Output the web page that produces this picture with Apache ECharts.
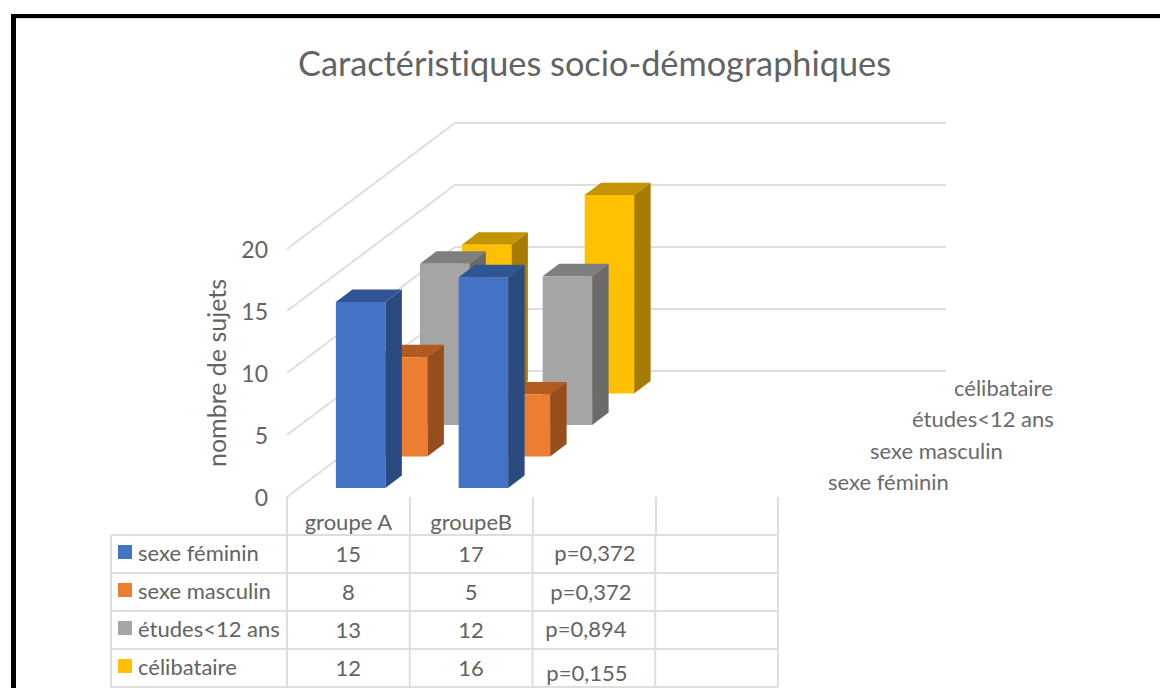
<!DOCTYPE html>
<html><head><meta charset="utf-8">
<style>html,body{margin:0;padding:0;background:#fff}#c{width:1160px;height:688px}
svg text{font-variant-ligatures:none}</style>
<script src="https://cdn.jsdelivr.net/npm/echarts@6/dist/echarts.min.js"></script>
</head><body><div id="c"></div>
<script>
const titleText = 'Caractéristiques socio-démographiques';
const yAxisName = 'nombre de sujets';
const groups = ['groupe A', 'groupeB', '', ''];
const seriesNames = ['sexe féminin', 'sexe masculin', 'études<12 ans', 'célibataire'];
const sexeFeminin = [15, 17];
const sexeMasculin = [8, 5];
const etudes = [13, 12];
const celibataire = [12, 16];
const pValues = ['p=0,372', 'p=0,372', 'p=0,894', 'p=0,155'];
const yTicks = [0, 5, 10, 15, 20];

const allSeries = [sexeFeminin, sexeMasculin, etudes, celibataire];
const faces = [
  {front:'#4472C4', top:'#2F5597', side:'#2A4A80'},
  {front:'#ED7D31', top:'#B25A20', side:'#964F1C'},
  {front:'#A5A5A5', top:'#7F7F7F', side:'#6B6B6B'},
  {front:'#FFC000', top:'#C49300', side:'#A67C00'}
];
const FONT = 'Lato';
const TXT = '#636363';
const GRIDC = '#DEDEDE';
const DX = 42, DY = -31.5;         // one depth slot in the oblique projection
const BAR_W = 0.403, BAR_D = 0.393;
const pNudge = [[1,-2],[-3,-1],[-8,-2],[-7,4]];
const ROW_HEAD = 176;

function bar(d) {
  return function (params, api) {
    const c = api.coord([api.value(0), 0]);
    const t = api.coord([api.value(0), api.value(1)]);
    const band = api.size([1, 0])[0];
    const w = band * BAR_W;
    const inset = (1 - BAR_D) / 2 + d;
    const x0 = c[0] - w / 2 + DX * inset - 0.5;
    const yb = c[1] + DY * inset + 0.5;
    const yt = t[1] + DY * inset + 0.5;
    const sx = DX * BAR_D, sy = DY * BAR_D;
    const f = faces[d];
    return {type:'group', children:[
      {type:'polygon', shape:{points:[[x0+w,yt],[x0+w+sx,yt+sy],[x0+w+sx,yb+sy],[x0+w,yb]]}, style:{fill:f.side}},
      {type:'polygon', shape:{points:[[x0,yt],[x0+sx,yt+sy],[x0+w+sx,yt+sy],[x0+w,yt]]}, style:{fill:f.top}},
      {type:'rect', shape:{x:x0,y:yt,width:w,height:yb-yt}, style:{fill:f.front}}
    ]};
  };
}

function wall(params, api) {
  const p = api.coord([0, api.value(0)]);
  const band = api.size([1, 0])[0];
  const x0 = p[0] - band / 2, y = p[1];
  const bx = x0 + DX * 4, by = y + DY * 4;
  const bxEnd = bx + band * groups.length;
  const st = {stroke:GRIDC, lineWidth:2, fill:'none'};
  return {type:'polyline', shape:{points:[[x0,y],[bx,by],[bxEnd,by]]}, style:st, silent:true};
}

function depthLabel(params, api) {
  const d = params.dataIndex;
  const p = api.coord([groups.length - 1, 0]);
  const band = api.size([1, 0])[0];
  return {type:'text', style:{
    x: p[0] + band / 2 + 50 + d * DX, y: p[1] - 15.5 + d * DY,
    text: seriesNames[d], fill:'#6A6A6A', font:'22px '+FONT, textAlign:'left', textVerticalAlign:'middle'
  }};
}

function tableLines(params, api) {
  const kids = [];
  const st = {stroke:GRIDC, lineWidth:2};
  const tl = api.coord([0, 0]), br = api.coord([groups.length, seriesNames.length]);
  const left = tl[0] - ROW_HEAD;
  for (let r = 0; r <= seriesNames.length; r++) {
    const y = api.coord([0, r])[1];
    kids.push({type:'line', shape:{x1:left,y1:y,x2:br[0],y2:y}, style:st});
  }
  kids.push({type:'line', shape:{x1:left,y1:tl[1],x2:left,y2:br[1]}, style:st});
  for (let c = 0; c <= groups.length; c++) {
    const x = api.coord([c, 0])[0];
    kids.push({type:'line', shape:{x1:x,y1:tl[1],x2:x,y2:br[1]}, style:st});
  }
  return {type:'group', children:kids};
}

const cells = [];
seriesNames.forEach((n, r) => {
  cells.push([0.5, r + 0.5, String(allSeries[r][0]), 0, -1]);
  cells.push([1.5, r + 0.5, String(allSeries[r][1]), 0, -1]);
  cells.push([2.5, r + 0.5, pValues[r], pNudge[r][0], pNudge[r][1]]);
});
function tableCell(params, api) {
  const p = api.coord([api.value(0), api.value(1)]);
  const cell = cells[params.dataIndex];
  return {type:'text', style:{
    x:p[0]+cell[3], y:p[1]+cell[4], text:cell[2], fill:TXT, font:'22px '+FONT,
    textAlign:'center', textVerticalAlign:'middle'
  }};
}

const series = [
  {type:'custom', name:'wall', coordinateSystem:'cartesian2d', xAxisIndex:0, yAxisIndex:0, z:1,
   data:yTicks.map(v => [v]), encode:{y:0}, renderItem:wall, silent:true},
  {type:'custom', name:'depth', coordinateSystem:'cartesian2d', xAxisIndex:0, yAxisIndex:0, z:1,
   data:seriesNames.map((n, i) => [i]), renderItem:depthLabel, silent:true}
];
for (let d = allSeries.length - 1; d >= 0; d--) {
  series.push({type:'custom', name:seriesNames[d], coordinateSystem:'cartesian2d', xAxisIndex:0, yAxisIndex:0,
    z:2 + (allSeries.length - d), itemStyle:{color:faces[d].front},
    data:allSeries[d].map((v, i) => [i, v]), encode:{x:0, y:1}, renderItem:bar(d), silent:true});
}
series.push({type:'custom', name:'tableLines', coordinateSystem:'cartesian2d', xAxisIndex:1, yAxisIndex:1, z:1,
  data:[[0, 0]], renderItem:tableLines, silent:true});
series.push({type:'custom', name:'tableCells', coordinateSystem:'cartesian2d', xAxisIndex:1, yAxisIndex:1, z:2,
  data:cells.map(c => [c[0], c[1]]), encode:{x:0, y:1}, renderItem:tableCell, silent:true});

const chart = echarts.init(document.getElementById('c'), null, {renderer:'svg'});
chart.setOption({
  animation:false,
  backgroundColor:'#fff',
  title:{text:titleText, left:293, top:40, textStyle:{fontFamily:FONT, fontSize:34.3, fontWeight:'normal', color:TXT}},
  legend:{orient:'vertical', left:113, top:535, height:300, itemWidth:14, itemHeight:14, itemGap:14, icon:'rect',
    selectedMode:false, data:seriesNames, textStyle:{fontFamily:FONT, fontSize:22, color:TXT, padding:[0,0,0,1], lineHeight:24}},
  grid:[
    {left:287, top:249, width:491, height:248, containLabel:false},
    {left:287, top:535, width:491, height:152}
  ],
  xAxis:[
    {type:'category', gridIndex:0, data:groups, axisLine:{show:false},
     axisTick:{show:true, length:37, lineStyle:{color:GRIDC, width:2}},
     axisLabel:{margin:13, interval:0, fontFamily:FONT, fontSize:22, color:TXT}, splitLine:{show:false}},
    {type:'value', gridIndex:1, min:0, max:groups.length, show:false, splitLine:{show:false}}
  ],
  yAxis:[
    {type:'value', gridIndex:0, min:0, max:20, interval:5, name:yAxisName, nameLocation:'middle', nameGap:59,
     nameRotate:90, nameTextStyle:{fontFamily:FONT, fontSize:25, color:TXT},
     axisLine:{show:false}, axisTick:{show:false}, splitLine:{show:false},
     axisLabel:{margin:19, fontFamily:FONT, fontSize:23, color:TXT, padding:[5,0,0,0]}},
    {type:'value', gridIndex:1, min:0, max:seriesNames.length, inverse:true, show:false, splitLine:{show:false}}
  ],
  graphic:[
    {type:'rect', silent:true, z:100, shape:{x:11,y:14,width:1149,height:4}, style:{fill:'#000'}},
    {type:'rect', silent:true, z:100, shape:{x:11,y:14,width:5,height:674}, style:{fill:'#000'}},
    {type:'rect', silent:true, z:100, shape:{x:16,y:18,width:1144,height:1}, style:{fill:'#DDD'}}
  ],
  series:series
});
</script></body></html>
